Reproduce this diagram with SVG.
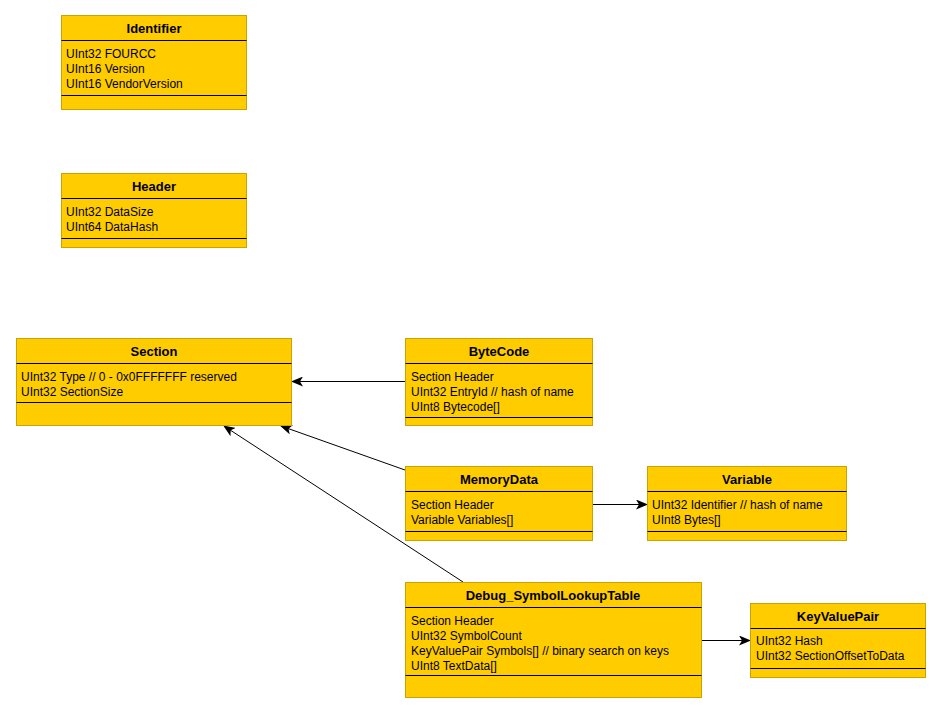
<svg xmlns="http://www.w3.org/2000/svg" width="942" height="714" viewBox="0 0 942 714">
<defs>
<marker id="arr" viewBox="0 0 12 10" refX="11" refY="5" markerWidth="12" markerHeight="10" markerUnits="userSpaceOnUse" orient="auto">
<path d="M0,0 L12,5 L0,10 L3,5 Z" fill="#000"/>
</marker>
<style>
.box{fill:#FFCC00;stroke:#C9A400;stroke-width:1}
.div{stroke:#000;stroke-width:1}
.t{font-family:"Liberation Sans",Arial,sans-serif;font-size:13px;font-weight:bold;fill:#000;text-anchor:middle}
.f{font-family:"Liberation Sans",Arial,sans-serif;font-size:12px;fill:#000}
.e{stroke:#000;stroke-width:1;fill:none;marker-end:url(#arr)}
</style>
</defs>
<rect width="942" height="714" fill="#fff"/>
<g id="connectors">
<line class="e" x1="405" y1="381.5" x2="292" y2="381.5"/>
<line class="e" x1="405" y1="470" x2="281" y2="426"/>
<line class="e" x1="463" y1="582" x2="224" y2="426"/>
<line class="e" x1="593" y1="504.5" x2="647" y2="504.5"/>
<line class="e" x1="702" y1="640.5" x2="750" y2="640.5"/>
</g>
<g id="Identifier">
<rect class="box" x="61.5" y="15.5" width="185" height="94"/>
<line class="div" x1="61.5" y1="40.5" x2="246.5" y2="40.5"/>
<line class="div" x1="61.5" y1="95.5" x2="246.5" y2="95.5"/>
<text class="t" x="154" y="33">Identifier</text>
<text class="f" x="66" y="58">UInt32 FOURCC</text>
<text class="f" x="66" y="73">UInt16 Version</text>
<text class="f" x="66" y="88">UInt16 VendorVersion</text>
</g>
<g id="Header">
<rect class="box" x="61.5" y="173.5" width="185" height="74"/>
<line class="div" x1="61.5" y1="198.5" x2="246.5" y2="198.5"/>
<line class="div" x1="61.5" y1="238.5" x2="246.5" y2="238.5"/>
<text class="t" x="154" y="191">Header</text>
<text class="f" x="66" y="216">UInt32 DataSize</text>
<text class="f" x="66" y="231">UInt64 DataHash</text>
</g>
<g id="Section">
<rect class="box" x="16.5" y="338.5" width="275" height="87"/>
<line class="div" x1="16.5" y1="363.5" x2="291.5" y2="363.5"/>
<line class="div" x1="16.5" y1="402.5" x2="291.5" y2="402.5"/>
<text class="t" x="154" y="356">Section</text>
<text class="f" x="21" y="381">UInt32 Type // 0 - 0x0FFFFFFF reserved</text>
<text class="f" x="21" y="396">UInt32 SectionSize</text>
</g>
<g id="ByteCode">
<rect class="box" x="405.5" y="338.5" width="187" height="87"/>
<line class="div" x1="405.5" y1="363.5" x2="592.5" y2="363.5"/>
<line class="div" x1="405.5" y1="417.5" x2="592.5" y2="417.5"/>
<text class="t" x="499" y="356">ByteCode</text>
<text class="f" x="411" y="381">Section Header</text>
<text class="f" x="411" y="396">UInt32 EntryId // hash of name</text>
<text class="f" x="411" y="411">UInt8 Bytecode[]</text>
</g>
<g id="MemoryData">
<rect class="box" x="405.5" y="466.5" width="187" height="74"/>
<line class="div" x1="405.5" y1="491.5" x2="592.5" y2="491.5"/>
<line class="div" x1="405.5" y1="531.5" x2="592.5" y2="531.5"/>
<text class="t" x="499" y="484">MemoryData</text>
<text class="f" x="411" y="509">Section Header</text>
<text class="f" x="411" y="524">Variable Variables[]</text>
</g>
<g id="Variable">
<rect class="box" x="647.5" y="466.5" width="199" height="74"/>
<line class="div" x1="647.5" y1="491.5" x2="846.5" y2="491.5"/>
<line class="div" x1="647.5" y1="531.5" x2="846.5" y2="531.5"/>
<text class="t" x="747" y="484">Variable</text>
<text class="f" x="652" y="509">UInt32 Identifier // hash of name</text>
<text class="f" x="652" y="524">UInt8 Bytes[]</text>
</g>
<g id="Debug_SymbolLookupTable">
<rect class="box" x="405.5" y="582.5" width="296" height="115"/>
<line class="div" x1="405.5" y1="607.5" x2="701.5" y2="607.5"/>
<line class="div" x1="405.5" y1="675.5" x2="701.5" y2="675.5"/>
<text class="t" x="553" y="600">Debug_SymbolLookupTable</text>
<text class="f" x="411" y="625">Section Header</text>
<text class="f" x="411" y="640">UInt32 SymbolCount</text>
<text class="f" x="411" y="655">KeyValuePair Symbols[] // binary search on keys</text>
<text class="f" x="411" y="670">UInt8 TextData[]</text>
</g>
<g id="KeyValuePair">
<rect class="box" x="750.5" y="603.5" width="175" height="74"/>
<line class="div" x1="750.5" y1="628.5" x2="925.5" y2="628.5"/>
<line class="div" x1="750.5" y1="668.5" x2="925.5" y2="668.5"/>
<text class="t" x="838" y="621">KeyValuePair</text>
<text class="f" x="756" y="645">UInt32 Hash</text>
<text class="f" x="756" y="660">UInt32 SectionOffsetToData</text>
</g>
</svg>
